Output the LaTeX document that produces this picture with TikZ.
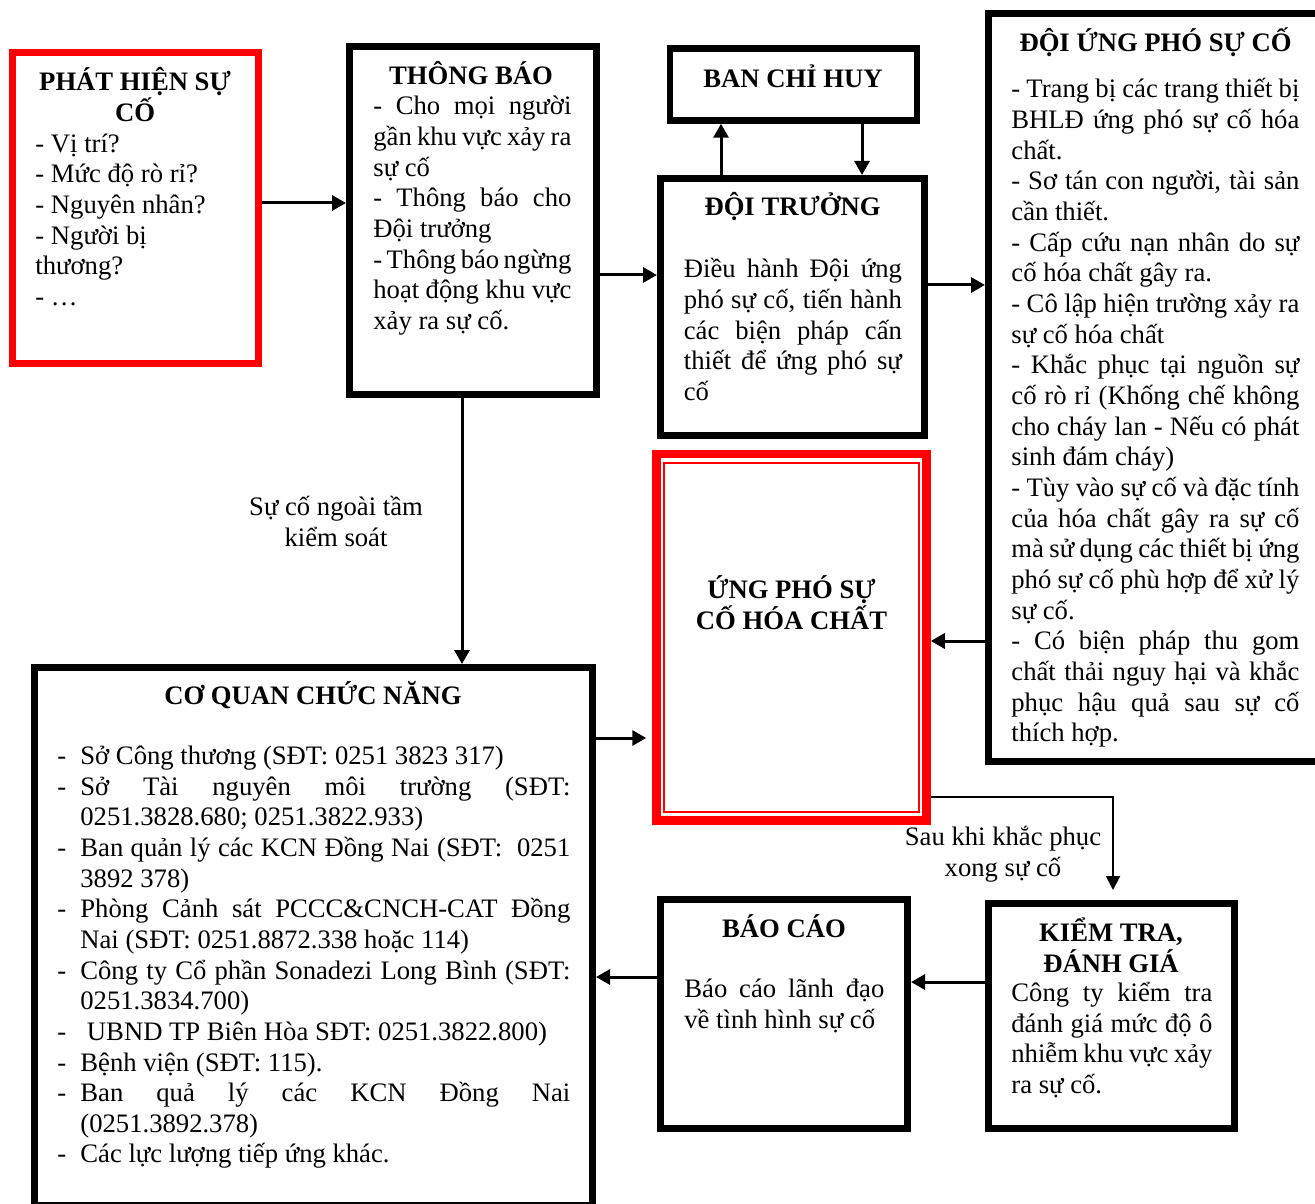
\documentclass[tikz,border=0pt]{standalone}
\usepackage{fontspec}
\setmainfont{Liberation Serif}
\usetikzlibrary{fit,arrows.meta}
\newcommand\bodyfont{\fontsize{13.33}{15.33}\selectfont}
% top strut: fixes the height of a block's first line
\newcommand\ts{\rule{0pt}{14pt}}
% justified line of a given width
\newcommand\jl[2]{\makebox[#1][s]{#2}}
% list item marker and continuation indent
\newcommand\itm{\makebox[11.5pt][l]{-}}
\newcommand\ind{\hspace*{11.5pt}}
\tikzset{
  x=0.5pt, y=-0.5pt,
  frame/.style={draw=black, line width=3.5pt, inner sep=0pt},
  redframe/.style={draw=red, line width=3.5pt, inner sep=0pt},
  txt/.style={inner sep=0pt, align=left, anchor=north west, font=\bodyfont},
  ttl/.style={inner sep=0pt, align=center, anchor=north, font=\bodyfont\bfseries},
  lbl/.style={inner sep=0pt, align=center, anchor=north, font=\bodyfont},
  arr/.style={line width=1.5pt, -{Triangle[length=7pt,width=7.5pt]}},
  thinarr/.style={line width=1pt, -{Triangle[length=7pt,width=7pt]}},
}
\begin{document}
\begin{tikzpicture}
\useasboundingbox (0,0) rectangle (1315,1203);
\fill[white] (0,0) rectangle (1315,1203);
\clip (0,0) rectangle (1315,1203);

% ---------- boxes ----------
\node[redframe, fit={(12.5,52.5) (258.5,363.5)}] (ph) {};
\node[frame, fit={(349.5,46.5) (596,394)}] (tb) {};
\node[frame, line width=3.25pt, fit={(670,48.5) (917,120.5)}] (bch) {};
\node[frame, fit={(660.5,178.5) (924,435)}] (dt) {};
\node[frame, fit={(988.5,13.5) (1322,761.5)}] (dup) {};
\node[redframe, line width=4.25pt, fit={(656.5,454) (926.5,820.5)}] (uph) {};
\node[redframe, line width=1pt, fit={(664,462.5) (918.5,812)}] (uphin) {};
\node[frame, fit={(34.5,667.5) (592.5,1205)}] (cq) {};
\node[frame, fit={(660.5,899.5) (907.5,1128.5)}] (bc) {};
\node[frame, fit={(988.5,903.5) (1234.5,1128.5)}] (kt) {};

% ---------- texts ----------
\node[ttl] (phT) at (135,62) {\ts PHÁT HIỆN SỰ\\CỐ};
\node[txt] (phB) at (35,123.7) {\ts- Vị trí?\\- Mức độ rò rỉ?\\- Nguyên nhân?\\- Người bị\\thương?\\- …};

\node[ttl] (tbT) at (471,56) {\ts THÔNG BÁO};
\node[txt] (tbB) at (373,86.5) {\ts\jl{99pt}{- Cho mọi người}\\
\jl{99pt}{gần khu vực xảy ra}\\
sự cố\\
\jl{99pt}{- Thông báo cho}\\
Đội trưởng\\
\jl{99pt}{- Thông báo ngừng}\\
\jl{99pt}{hoạt động khu vực}\\
xảy ra sự cố.};

\node[ttl] (bchT) at (793,59) {\ts BAN CHỈ HUY};

\node[ttl] (dtT) at (792.5,187.5) {\ts ĐỘI TRƯỞNG};
\node[txt] (dtB) at (683.5,249.5) {\ts\jl{109pt}{Điều hành Đội ứng}\\
\jl{109pt}{phó sự cố, tiến hành}\\
\jl{109pt}{các biện pháp cấn}\\
\jl{109pt}{thiết để ứng phó sự}\\
cố};

\node[ttl] (dupT) at (1155.5,23) {\ts ĐỘI ỨNG PHÓ SỰ CỐ};
\node[txt] (dupB) at (1011,69.5) {\ts\jl{144pt}{- Trang bị các trang thiết bị}\\
\jl{144pt}{BHLĐ ứng phó sự cố hóa}\\
chất.\\
\jl{144pt}{- Sơ tán con người, tài sản}\\
cần thiết.\\
\jl{144pt}{- Cấp cứu nạn nhân do sự}\\
cố hóa chất gây ra.\\
\jl{144pt}{- Cô lập hiện trường xảy ra}\\
sự cố hóa chất\\
\jl{144pt}{- Khắc phục tại nguồn sự}\\
\jl{144pt}{cố rò rỉ (Khống chế không}\\
\jl{144pt}{cho cháy lan - Nếu có phát}\\
sinh đám cháy)\\
\jl{144pt}{- Tùy vào sự cố và đặc tính}\\
\jl{144pt}{của hóa chất gây ra sự cố}\\
\jl{144pt}{mà sử dụng các thiết bị ứng}\\
\jl{144pt}{phó sự cố phù hợp để xử lý}\\
sự cố.\\
\jl{144pt}{- Có biện pháp thu gom}\\
\jl{144pt}{chất thải nguy hại và khắc}\\
\jl{144pt}{phục hậu quả sau sự cố}\\
thích hợp.};

\node[ttl] (uphT) at (791.5,570) {\ts ỨNG PHÓ SỰ\\CỐ HÓA CHẤT};

\node[ttl] (cqT) at (313,676) {\ts CƠ QUAN CHỨC NĂNG};
\node[txt] (cqB) at (57,736) {\ts\itm Sở Công thương (SĐT: 0251 3823 317)\\
\itm\jl{245pt}{Sở Tài nguyên môi trường (SĐT:}\\
\ind 0251.3828.680; 0251.3822.933)\\
\itm\jl{245pt}{Ban quản lý các KCN Đồng Nai (SĐT:\ \ 0251}\\
\ind 3892 378)\\
\itm\jl{245pt}{Phòng Cảnh sát PCCC\&CNCH-CAT Đồng}\\
\ind Nai (SĐT: 0251.8872.338 hoặc 114)\\
\itm\jl{245pt}{Công ty Cổ phần Sonadezi Long Bình (SĐT:}\\
\ind 0251.3834.700)\\
\itm\hspace*{3.3pt}UBND TP Biên Hòa SĐT: 0251.3822.800)\\
\itm Bệnh viện (SĐT: 115).\\
\itm\jl{245pt}{Ban quả lý các KCN Đồng Nai}\\
\ind (0251.3892.378)\\
\itm Các lực lượng tiếp ứng khác.};

\node[ttl] (bcT) at (784,909.5) {\ts BÁO CÁO};
\node[txt] (bcB) at (684,969.5) {\ts\jl{100pt}{Báo cáo lãnh đạo}\\về tình hình sự cố};

\node[ttl] (ktT) at (1111,913) {\ts KIỂM TRA,\\ĐÁNH GIÁ};
\node[txt] (ktB) at (1011,973) {\ts\jl{100.5pt}{Công ty kiểm tra}\\
\jl{100.5pt}{đánh giá mức độ ô}\\
\jl{100.5pt}{nhiễm khu vực xảy}\\
ra sự cố.};

% connector labels
\node[lbl] (lbl1) at (336,487) {\ts Sự cố ngoài tầm\\kiểm soát};
\node[lbl] (lbl2) at (1003,817) {\ts Sau khi khắc phục\\xong sự cố};

% ---------- connectors ----------
\draw[arr] (ph.east |- 0,203) -- (tb.west |- 0,203);
\draw[arr] (tb.east |- 0,275) -- (dt.west |- 0,275);
\draw[arr] (dt.east |- 0,285) -- (dup.west |- 0,285);
\draw[arr] (721,0 |- dt.north) -- (721,0 |- bch.south);
\draw[arr] (862,0 |- bch.south) -- (862,0 |- dt.north);
\draw[arr] (tb.south -| 462,0) -- (cq.north -| 462,0);
\draw[arr] (dup.west |- 0,641) -- (uph.east |- 0,641);
\draw[arr, shorten >=3pt] (cq.east |- 0,738) -- (uph.west |- 0,738);
\draw[thinarr, shorten >=5pt] (uph.east |- 0,797) -| ([xshift=0.75pt]kt.north);
\draw[arr] (kt.west |- 0,982) -- (bc.east |- 0,982);
\draw[arr] (bc.west |- 0,977) -- (cq.east |- 0,977);
\end{tikzpicture}
\end{document}
